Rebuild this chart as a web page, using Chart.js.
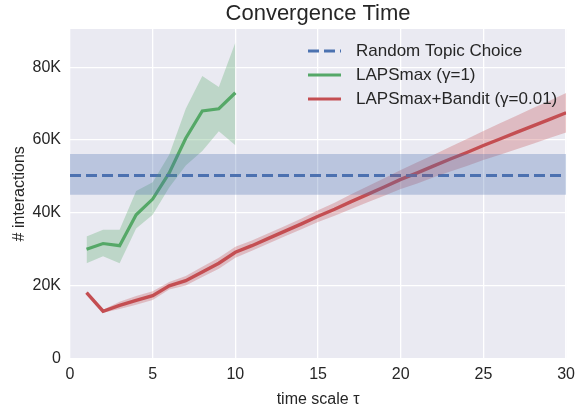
<!DOCTYPE html>
<html>
<head>
<meta charset="utf-8">
<style>
  html, body { margin: 0; padding: 0; background: #fff; }
  #wrap { width: 581px; height: 410px; }
</style>
</head>
<body>
<div id="wrap"><canvas id="Grafica"></canvas></div>
<script src="https://cdn.jsdelivr.net/npm/chart.js"></script>
<script>
// values in thousands of interactions
const xTicks = [0, 5, 10, 15, 20, 25, 30];
const yTicks = [0, 20, 40, 60, 80];

const randomX = [0, 30];
const randomMean = [50.3, 50.3];
const randomUpper = [56.2, 56.2];
const randomLower = [45.0, 45.0];

const lapsX = [1, 2, 3, 4, 5, 6, 7, 8, 9, 10];
const lapsMean  = [30.0, 31.6, 31.0, 39.5, 43.8, 51.0, 60.5, 68.0, 68.6, 73.0];
const lapsUpper = [33.5, 35.4, 35.4, 46.0, 48.4, 56.0, 68.6, 77.6, 74.6, 86.8];
const lapsLower = [26.2, 28.1, 26.2, 35.7, 39.5, 47.0, 53.0, 57.0, 62.4, 58.6];

const banditX = [1, 2, 3, 4, 5, 6, 7, 8, 9, 10, 11, 12, 13, 14, 15, 16, 17, 18, 19, 20, 21, 22, 23, 24, 25, 26, 27, 28, 29, 30];
const banditMean  = [18.1, 13.0, 14.6, 16.0, 17.3, 20.0, 21.4, 23.8, 26.2, 29.2, 31.0, 33.0, 35.0, 37.0, 39.1, 41.0, 43.1, 45.1, 47.1, 49.2, 51.0, 52.9, 54.8, 56.6, 58.5, 60.3, 62.1, 63.9, 65.7, 67.5];
const banditUpper = [18.4, 13.4, 15.6, 17.2, 18.5, 21.0, 22.7, 25.2, 27.7, 30.7, 32.4, 34.4, 36.4, 38.5, 40.7, 42.8, 45.1, 47.3, 49.5, 51.8, 53.9, 56.0, 58.2, 60.3, 62.5, 64.6, 66.7, 68.8, 70.8, 72.9];
const banditLower = [17.8, 12.6, 13.6, 14.8, 16.1, 19.0, 20.1, 22.4, 24.7, 27.7, 29.6, 31.6, 33.6, 35.5, 37.5, 39.2, 41.1, 42.9, 44.7, 46.6, 48.1, 49.8, 51.4, 52.9, 54.5, 56.0, 57.5, 59.0, 60.6, 62.1];

const chartTitle = 'Convergence Time';
const legendLabels = ['Random Topic Choice', 'LAPSmax (γ=1)', 'LAPSmax+Bandit (γ=0.01)'];

const BLUE = '#4C72B0', GREEN = '#55A868', RED = '#C44E52';
const FONT = "'Liberation Sans', Arial, sans-serif";
const TXT = '#262626';

const pts = (xs, ys) => xs.map((x, i) => ({ x: x, y: ys[i] }));

function band(xs, up, lo, rgba) {
  return [
    { data: pts(xs, up), borderWidth: 0, pointRadius: 0, backgroundColor: rgba, fill: '+1', tension: 0 },
    { data: pts(xs, lo), borderWidth: 0, pointRadius: 0, backgroundColor: rgba, fill: false, tension: 0 }
  ];
}

const plotBg = {
  id: 'plotBg',
  beforeDraw(chart) {
    const { ctx, chartArea: a } = chart;
    ctx.save();
    ctx.fillStyle = '#EAEAF2';
    ctx.fillRect(a.left, a.top, a.right - a.left, a.bottom - a.top);
    ctx.restore();
  }
};

// title centred over the plot area, like matplotlib
const plotTitle = {
  id: 'plotTitle',
  afterDraw(chart) {
    const { ctx, chartArea: a } = chart;
    ctx.save();
    ctx.font = '22px ' + FONT;
    ctx.fillStyle = TXT;
    ctx.textAlign = 'center';
    ctx.textBaseline = 'middle';
    ctx.fillText(chartTitle, (a.left + a.right) / 2, 14);
    ctx.restore();
  }
};

const legendBox = {
  id: 'legendBox',
  afterDraw(chart) {
    const ctx = chart.ctx;
    const a = chart.chartArea;
    const styles = [
      { c: BLUE, dash: [11, 5] },
      { c: GREEN, dash: [] },
      { c: RED, dash: [] }
    ];
    ctx.save();
    ctx.font = '17px ' + FONT;
    ctx.textBaseline = 'middle';
    legendLabels.forEach((t, i) => {
      const y = a.top + 22 + i * 24;
      const x0 = a.left + 238;
      ctx.strokeStyle = styles[i].c;
      ctx.lineWidth = 3;
      ctx.setLineDash(styles[i].dash);
      ctx.beginPath();
      ctx.moveTo(x0, y);
      ctx.lineTo(x0 + 33, y);
      ctx.stroke();
      ctx.fillStyle = TXT;
      ctx.fillText(t, x0 + 48, y);
    });
    ctx.restore();
  }
};

new Chart(document.getElementById('Grafica'), {
  type: 'line',
  data: {
    datasets: [
      ...band(randomX, randomUpper, randomLower, 'rgba(76,114,176,0.3)'),
      ...band(lapsX, lapsUpper, lapsLower, 'rgba(85,168,104,0.3)'),
      ...band(banditX, banditUpper, banditLower, 'rgba(196,78,82,0.3)'),
      { label: legendLabels[0], data: pts(randomX, randomMean), borderColor: BLUE, borderWidth: 3, borderDash: [11, 5], pointRadius: 0, fill: false },
      { label: legendLabels[1], data: pts(lapsX, lapsMean), borderColor: GREEN, borderWidth: 3.2, pointRadius: 0, fill: false },
      { label: legendLabels[2], data: pts(banditX, banditMean), borderColor: RED, borderWidth: 3.4, pointRadius: 0, fill: false }
    ]
  },
  options: {
    responsive: true,
    maintainAspectRatio: false,
    animation: false,
    layout: { padding: { top: 29, right: 11, left: 0, bottom: 0 } },
    plugins: {
      legend: { display: false },
      tooltip: { enabled: false },
      title: { display: false }
    },
    scales: {
      x: {
        type: 'linear',
        min: 0,
        max: 30,
        afterBuildTicks: s => { s.ticks = xTicks.map(v => ({ value: v })); },
        ticks: { color: TXT, font: { family: FONT, size: 16 }, padding: 6, maxRotation: 0 },
        grid: { color: '#FFFFFF', lineWidth: 1.3, drawTicks: false },
        border: { display: false },
        title: { display: true, text: 'time scale τ', color: TXT, font: { family: FONT, size: 16 }, padding: { top: 0, bottom: 1 } }
      },
      y: {
        type: 'linear',
        min: 0,
        max: 90.5,
        afterBuildTicks: s => { s.ticks = yTicks.map(v => ({ value: v })); },
        afterFit: s => { s.width = 70; },
        ticks: {
          color: TXT,
          font: { family: FONT, size: 16 },
          padding: 9,
          callback: v => (v === 0 ? '0' : v + 'K')
        },
        grid: { color: '#FFFFFF', lineWidth: 1.3, drawTicks: false },
        border: { display: false },
        title: { display: true, text: '# interactions', color: TXT, font: { family: FONT, size: 16 }, padding: { top: 10, bottom: 0 } }
      }
    }
  },
  plugins: [plotBg, plotTitle, legendBox]
});
</script>
</body>
</html>
